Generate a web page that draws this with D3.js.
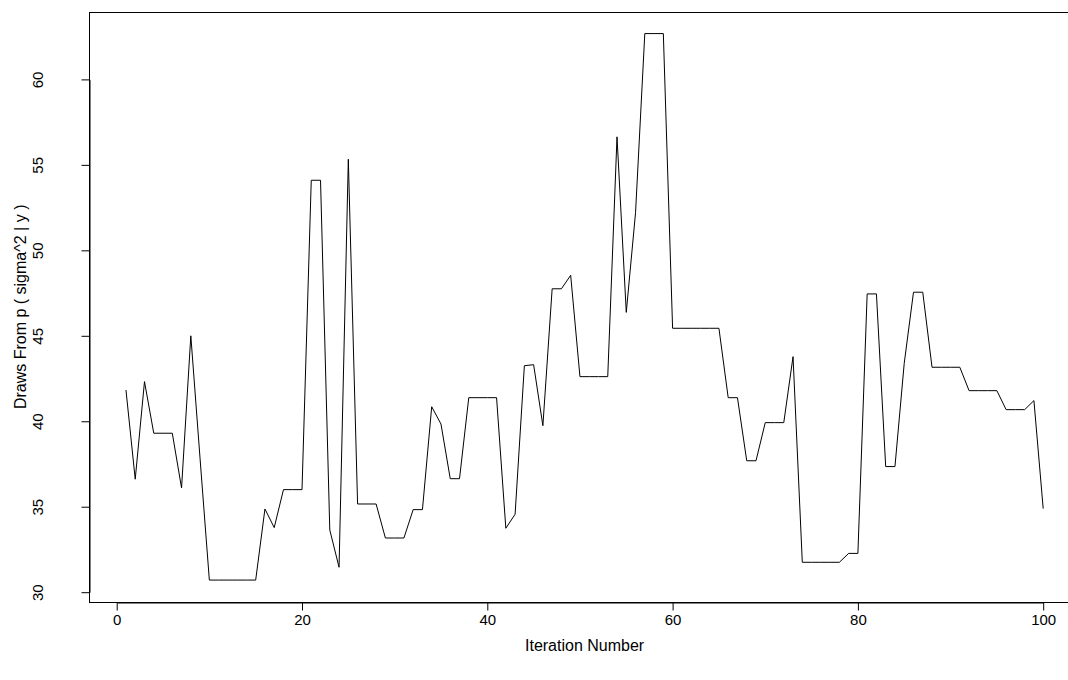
<!DOCTYPE html>
<html>
<head>
<meta charset="utf-8">
<script src="https://cdn.jsdelivr.net/npm/d3@7/dist/d3.min.js"></script>
<style>
  html, body { margin: 0; padding: 0; background: #fff; overflow: hidden; }
  svg { display: block; }
  text { font-family: "Liberation Sans", Arial, Helvetica, sans-serif; fill: #000; }
</style>
</head>
<body>
<svg id="chart" width="1068" height="680"></svg>
<script>
// Iteration numbers 1..100
const iterations = d3.range(1, 101);
// Draws from p(sigma^2 | y)
const draws = [
  41.83, 36.61, 42.32, 39.30, 39.30, 39.30, 36.10, 45.00, 37.80, 30.71,
  30.71, 30.71, 30.71, 30.71, 30.71, 34.87, 33.78, 36.00, 36.00, 36.00,
  54.10, 54.10, 33.64, 31.46, 55.33, 35.16, 35.16, 35.16, 33.17, 33.17,
  33.17, 34.83, 34.83, 40.85, 39.84, 36.64, 36.64, 41.38, 41.38, 41.38,
  41.38, 33.74, 34.56, 43.25, 43.31, 39.74, 47.75, 47.75, 48.54, 42.61,
  42.61, 42.61, 42.61, 56.64, 46.37, 52.20, 62.68, 62.68, 62.68, 45.44,
  45.44, 45.44, 45.44, 45.44, 45.44, 41.38, 41.38, 37.69, 37.69, 39.92,
  39.92, 39.92, 43.78, 31.75, 31.75, 31.75, 31.75, 31.75, 32.27, 32.27,
  47.45, 47.45, 37.35, 37.35, 43.39, 47.55, 47.55, 43.16, 43.16, 43.16,
  43.16, 41.79, 41.79, 41.79, 41.79, 40.68, 40.68, 40.68, 41.21, 34.89
];
const xTicks = [0, 20, 40, 60, 80, 100];
const yTicks = [30, 35, 40, 45, 50, 55, 60];
const xLabel = "Iteration Number";
const yLabel = "Draws From p ( sigma^2 | y )";

const FS = 15;
const FS_LAB = 16;
const svg = d3.select("#chart");

// scales: domain = tick span, so the axis line covers only the ticks (like R)
const x = d3.scaleLinear().domain([0, 100]).range([116.7, 1043.2]);
const y = d3.scaleLinear().domain([30, 60]).range([592.2, 79.4]);

// R-style 4% extension for the plot box
const xExt = [1 - 0.04 * 99, 100 + 0.04 * 99];
const yMin = d3.min(draws), yMax = d3.max(draws);
const yExt = [yMin - 0.04 * (yMax - yMin), yMax + 0.04 * (yMax - yMin)];

const boxL = x(xExt[0]), boxR = x(xExt[1]);
const boxT = y(yExt[1]), boxB = y(yExt[0]);

// plot frame
svg.append("rect")
  .attr("x", Math.round(boxL) + 0.5)
  .attr("y", Math.round(boxT) + 0.5)
  .attr("width", Math.round(boxR - boxL))
  .attr("height", Math.round(boxB - boxT))
  .attr("fill", "none")
  .attr("stroke", "#000")
  .attr("stroke-width", 1);

// x axis
const gx = svg.append("g")
  .attr("transform", `translate(0,${Math.round(boxB) + 0.5})`)
  .call(d3.axisBottom(x).tickValues(xTicks).tickSize(8).tickSizeOuter(0).tickPadding(4)
    .tickFormat(d3.format("d")));
gx.selectAll("path.domain").attr("stroke", "#000").attr("stroke-width", 1);
gx.selectAll(".tick line").attr("stroke", "#000");
gx.selectAll(".tick text").attr("font-size", FS).attr("font-family", "Liberation Sans, Arial, sans-serif").attr("fill", "#000");

// y axis
const gy = svg.append("g")
  .attr("transform", `translate(${Math.round(boxL) + 0.5},0)`)
  .call(d3.axisLeft(y).tickValues(yTicks).tickSize(8).tickSizeOuter(0)
    .tickFormat(d3.format("d")));
gy.selectAll("path.domain").attr("stroke", "#000").attr("stroke-width", 1);
gy.selectAll(".tick line").attr("stroke", "#000");
gy.selectAll(".tick text")
  .attr("font-size", FS)
  .attr("font-family", "Liberation Sans, Arial, sans-serif")
  .attr("fill", "#000")
  .attr("x", null).attr("dy", null)
  .attr("text-anchor", "middle")
  .attr("transform", `translate(${43 - (Math.round(boxL) + 0.5)},0) rotate(-90)`);

// line
const line = d3.line()
  .x((d, i) => x(iterations[i]))
  .y(d => y(d));
svg.append("path")
  .datum(draws)
  .attr("d", line)
  .attr("fill", "none")
  .attr("stroke", "#000")
  .attr("stroke-width", 1);

// axis titles
svg.append("text")
  .attr("x", (boxL + boxR) / 2)
  .attr("y", 651)
  .attr("text-anchor", "middle")
  .attr("font-size", FS_LAB)
  .text(xLabel);

svg.append("text")
  .attr("transform", `translate(26,${(boxT + boxB) / 2}) rotate(-90)`)
  .attr("text-anchor", "middle")
  .attr("font-size", FS_LAB)
  .text(yLabel);
</script>
</body>
</html>
